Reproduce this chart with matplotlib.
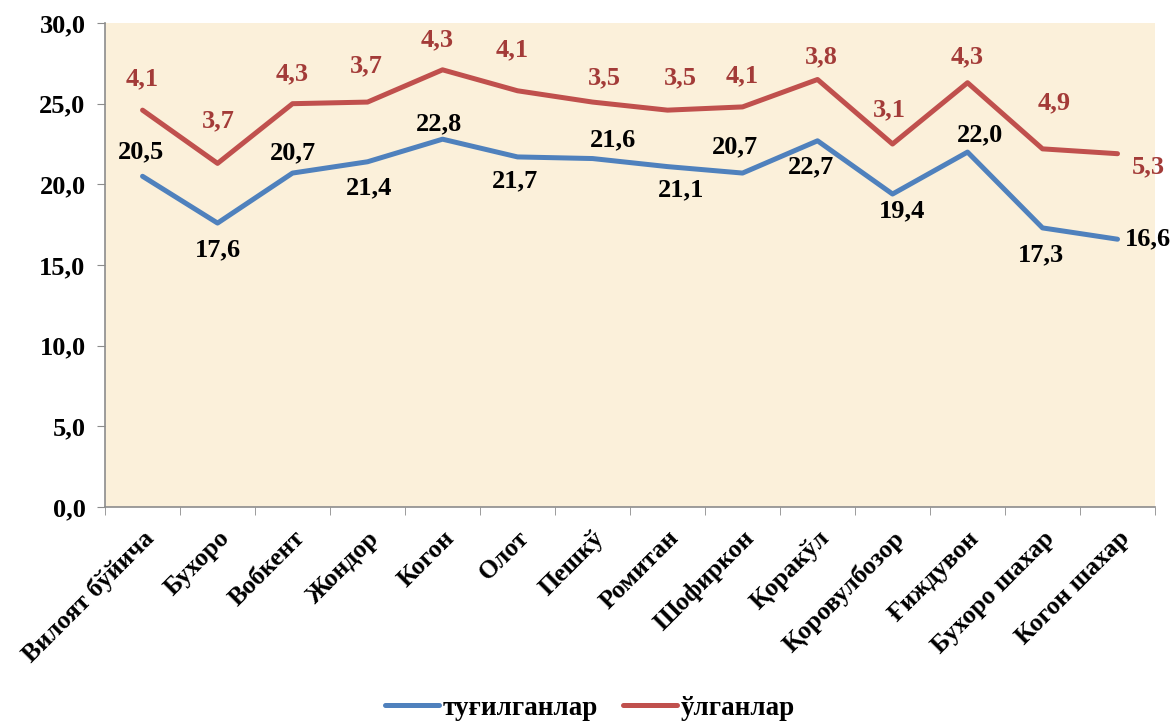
import matplotlib
matplotlib.use('Agg')
import matplotlib.pyplot as plt
from matplotlib.ticker import FuncFormatter, MultipleLocator
import numpy as np

plt.rcParams['font.family'] = ['Liberation Serif', 'DejaVu Serif']
plt.rcParams['font.weight'] = 'bold'

districts = ['Вилоят бўйича', 'Бухоро', 'Вобкент', 'Жондор', 'Когон', 'Олот',
             'Пешкў', 'Ромитан', 'Шофиркон', 'Қоракўл', 'Қоровулбозор',
             'Ғиждувон', 'Бухоро шахар', 'Когон шахар']
births = [20.5, 17.6, 20.7, 21.4, 22.8, 21.7, 21.6, 21.1, 20.7, 22.7, 19.4, 22.0, 17.3, 16.6]
deaths = [4.1, 3.7, 4.3, 3.7, 4.3, 4.1, 3.5, 3.5, 4.1, 3.8, 3.1, 4.3, 4.9, 5.3]

# label offsets in pixels (dx, dy), dy positive = up
birth_off = [(-2, 24), (0, -27), (0, 20), (2, -26), (-4, 15), (-3, -24), (20, 19), (14, -23),
             (-8, 26), (-7, -26), (10, -17), (12, 17), (-2, -27), (30, 0)]
death_off = [(0, 31), (1, 43), (0, 30), (-1, 36), (-5, 30), (-5, 41), (12, 24), (13, 32),
             (0, 31), (4, 23), (-3, 34), (0, 26), (12, 46), (31, -13)]

blue = '#4F81BD'
red = '#C0504D'

fig = plt.figure(figsize=(11.75, 7.24), dpi=100)
ax = fig.add_axes([0.0894, 0.2997, 0.8936, 0.6685])
ax.set_facecolor('#FBF0DA')

x = np.arange(len(districts))
stacked = np.array(births) + np.array(deaths)

ax.plot(x, births, color=blue, lw=3.6, solid_capstyle='round', label='туғилганлар')
ax.plot(x, stacked, color=red, lw=3.6, solid_capstyle='round', label='ўлганлар')

for i in range(len(x)):
    ax.annotate(f'{births[i]:.1f}'.replace('.', ','), (x[i], births[i]),
                xytext=birth_off[i], textcoords='offset pixels',
                ha='center', va='center', fontsize=19, fontweight='bold', color='black')
    ax.annotate(f'{deaths[i]:.1f}'.replace('.', ','), (x[i], stacked[i]),
                xytext=death_off[i], textcoords='offset pixels',
                ha='center', va='center', fontsize=19, fontweight='bold', color='#A33B38')

ax.set_xlim(-0.5, len(districts) - 0.5)
ax.set_ylim(0, 30)
ax.yaxis.set_major_locator(MultipleLocator(5))
ax.yaxis.set_major_formatter(FuncFormatter(lambda v, p: f'{v:.1f}'.replace('.', ',')))

ax.set_xticks(x)
ax.set_xticklabels(districts, rotation=45, ha='right', rotation_mode='anchor',
                   fontsize=18.5, fontweight='bold')
ax.set_xticks(np.arange(len(districts) + 1) - 0.5, minor=True)
ax.tick_params(axis='x', which='major', length=0, pad=14)
ax.tick_params(axis='x', which='minor', length=6, color='#8C8C8C', direction='out')
ax.tick_params(axis='y', length=6, color='#8C8C8C', labelsize=19, pad=8)
for lab in ax.get_yticklabels():
    lab.set_fontweight('bold')

for s in ['top', 'right']:
    ax.spines[s].set_visible(False)
for s in ['left', 'bottom']:
    ax.spines[s].set_color('#8C8C8C')
    ax.spines[s].set_linewidth(1.2)

leg = fig.legend(loc='center', bbox_to_anchor=(0.502, 0.022), ncol=2, frameon=False,
                 prop={'size': 19.5, 'weight': 'bold'}, handlelength=2.0,
                 handletextpad=0.15, columnspacing=0.9)

fig.savefig('out.png', dpi=100)
